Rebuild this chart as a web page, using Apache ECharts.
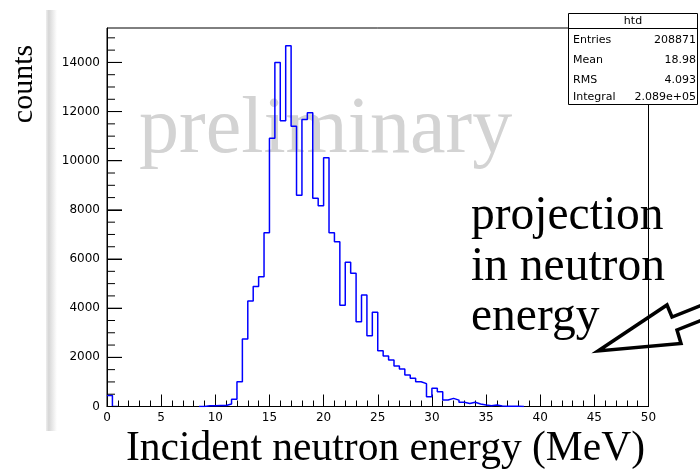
<!DOCTYPE html>
<html><head><meta charset="utf-8">
<script src="https://cdn.jsdelivr.net/npm/echarts@6/dist/echarts.min.js"></script>
<style>html,body{margin:0;padding:0;background:#fff}#c{width:700px;height:470px}</style>
</head><body><div id="c"></div>
<script>
// ---- data ----
const binStart = 0;
const binWidth = 0.5;
// counts per 0.5 MeV bin, 0 .. 50 MeV (100 bins)
const counts = [
  450, 0, 0, 0, 0, 0, 0, 0, 0, 0,          // 0 - 5
  0, 0, 0, 0, 0, 0, 0, 0, 30, 30,          // 5 - 10
  40, 40, 100, 290, 1010, 2750, 4290, 4880, 5280, 7070,      // 10 - 15
  10910, 14000, 11630, 14680, 11400, 8600, 11680, 11950, 8470, 8170, // 15 - 20
  10120, 7070, 6700, 4120, 5870, 5420, 3450, 4540, 2880, 3830,       // 20 - 25
  2270, 2050, 1890, 1650, 1530, 1280, 1150, 1010, 930, 400,          // 25 - 30
  740, 600, 265, 330, 260, 170, 120, 170, 100, 60,                   // 30 - 35
  30, 60, 20, 15, 15, 10, 0, 0, 0, 0,                                // 35 - 40
  0, 0, 0, 0, 0, 0, 0, 0, 0, 0,                                      // 40 - 45
  0, 0, 0, 0, 0, 0, 0, 0, 0, 0                                       // 45 - 50
];
const xTickValues = [0, 5, 10, 15, 20, 25, 30, 35, 40, 45, 50];
const yTickValues = [0, 2000, 4000, 6000, 8000, 10000, 12000, 14000];
const yMinorTickValues = [500, 1000, 1500, 2500, 3000, 3500, 4500, 5000, 5500, 6500, 7000, 7500,
  8500, 9000, 9500, 10500, 11000, 11500, 12500, 13000, 13500, 14500, 15000];
const yMax = 15400;
const statsTitle = 'htd';
const statsLabels = ['Entries', 'Mean', 'RMS', 'Integral'];
const statsValues = ['208871', '18.98', '4.093', '2.089e+05'];
const xTitle = 'Incident neutron energy (MeV)';
const yTitle = 'counts';
const watermark = 'preliminary';
const noteLines = ['projection', 'in neutron', 'energy'];

// ---- step outline built from bins ----
function outline(c) {
  const pts = [];
  for (let i = 0; i < c.length; i++) {
    const lo = binStart + i * binWidth, hi = lo + binWidth, v = c[i];
    const prev = i > 0 ? c[i - 1] : 0, next = i < c.length - 1 ? c[i + 1] : 0;
    if (v === 0 && prev === 0 && next === 0) {
      if (pts.length && pts[pts.length - 1] !== null) pts.push(null);
      continue;
    }
    pts.push([lo, v], [hi, v]);
  }
  return pts;
}

const chart = echarts.init(document.getElementById('c'), null, {renderer: 'canvas', width: 700, height: 470});
const serif = 'Liberation Serif, Times New Roman, serif';
const sans = 'DejaVu Sans, sans-serif';
const statsRows = [40, 60.5, 80.5, 97];

const graphics = [
  {type: 'rect', z: -5, silent: true, shape: {x: 46, y: 10, width: 11, height: 421},
   style: {fill: new echarts.graphic.LinearGradient(0, 0, 1, 0, [
     {offset: 0, color: '#eeeeee'}, {offset: 0.25, color: '#d6d6d6'}, {offset: 1, color: '#ffffff'}])}},
  {type: 'text', z: 0, x: 139, y: 131, style: {text: watermark, font: '80px ' + serif, fill: '#d3d3d3', align: 'left', verticalAlign: 'middle'}},
  {type: 'text', z: 10, x: 24, y: 84, rotation: Math.PI / 2,
   style: {text: yTitle, font: '30px ' + serif, fill: '#000', align: 'center', verticalAlign: 'middle'}},
  {type: 'text', z: 10, x: 385.5, y: 449.5,
   style: {text: xTitle, font: '41.5px ' + serif, fill: '#000', align: 'center', verticalAlign: 'middle'}},
  {type: 'text', z: 10, x: 471, y: 217, style: {text: noteLines[0], font: '47.5px ' + serif, fill: '#000', align: 'left', verticalAlign: 'middle'}},
  {type: 'text', z: 10, x: 471, y: 267.5, style: {text: noteLines[1], font: '47.5px ' + serif, fill: '#000', align: 'left', verticalAlign: 'middle'}},
  {type: 'text', z: 10, x: 471, y: 318, style: {text: noteLines[2], font: '47.5px ' + serif, fill: '#000', align: 'left', verticalAlign: 'middle'}},
  {type: 'polygon', z: 20, shape: {points: [[598, 351], [667, 305], [672, 317], [702, 305], [702, 320], [677, 330], [681, 343.5]]},
   style: {fill: 'none', stroke: '#000', lineWidth: 3.5, lineJoin: 'miter'}},
  {type: 'rect', z: 30, shape: {x: 568.5, y: 13.5, width: 129, height: 91},
   style: {fill: '#fff', stroke: '#000', lineWidth: 1}},
  {type: 'line', z: 31, shape: {x1: 568.5, y1: 28.5, x2: 697.5, y2: 28.5}, style: {stroke: '#000', lineWidth: 1}},
  {type: 'text', z: 31, x: 633, y: 21, style: {text: statsTitle, font: '11px ' + sans, fill: '#000', align: 'center', verticalAlign: 'middle'}}
];
statsLabels.forEach((lab, i) => {
  graphics.push({type: 'text', z: 31, x: 573, y: statsRows[i], style: {text: lab, font: '11px ' + sans, fill: '#000', align: 'left', verticalAlign: 'middle'}});
  graphics.push({type: 'text', z: 31, x: 696, y: statsRows[i], style: {text: statsValues[i], font: '11px ' + sans, fill: '#000', align: 'right', verticalAlign: 'middle'}});
});

const axisText = {color: '#000', fontFamily: sans, fontSize: 12, formatter: v => String(v)};
const tickSeries = (vals, len) => ({
  type: 'scatter', silent: true, clip: false, z: 3,
  data: vals.map(v => [xTickValues[0], v]),
  symbol: 'rect', symbolSize: [len, 1], symbolOffset: [len / 2, 0],
  itemStyle: {color: '#000', opacity: 1}
});
chart.setOption({
  backgroundColor: '#fff',
  animation: false,
  tooltip: {show: false},
  grid: {left: 107, right: 51.5, top: 28, bottom: 63.5, show: true, borderColor: '#000', borderWidth: 1, backgroundColor: 'transparent'},
  xAxis: {
    type: 'value', min: xTickValues[0], max: xTickValues[xTickValues.length - 1], interval: xTickValues[1] - xTickValues[0],
    axisLine: {show: true, lineStyle: {color: '#000', width: 1}},
    axisTick: {show: true, inside: true, length: 12, lineStyle: {color: '#000', width: 1}},
    minorTick: {show: true, splitNumber: 5, length: 6, lineStyle: {color: '#000', width: 1}},
    splitLine: {show: false},
    axisLabel: Object.assign({margin: 5}, axisText)
  },
  yAxis: {
    type: 'value', min: yTickValues[0], max: yMax, interval: yTickValues[1] - yTickValues[0],
    axisLine: {show: true, lineStyle: {color: '#000', width: 1}},
    axisTick: {show: true, inside: true, length: 15, lineStyle: {color: '#000', width: 1}},
    splitLine: {show: false},
    axisLabel: Object.assign({margin: 7, showMaxLabel: false}, axisText)
  },
  graphic: graphics,
  series: [{
    type: 'line', data: outline(counts), showSymbol: false, symbol: 'none',
    connectNulls: false, lineStyle: {color: '#0000ff', width: 1.5}, z: 2
  }, tickSeries(yTickValues, 15), tickSeries(yMinorTickValues, 8)]
});
</script></body></html>
